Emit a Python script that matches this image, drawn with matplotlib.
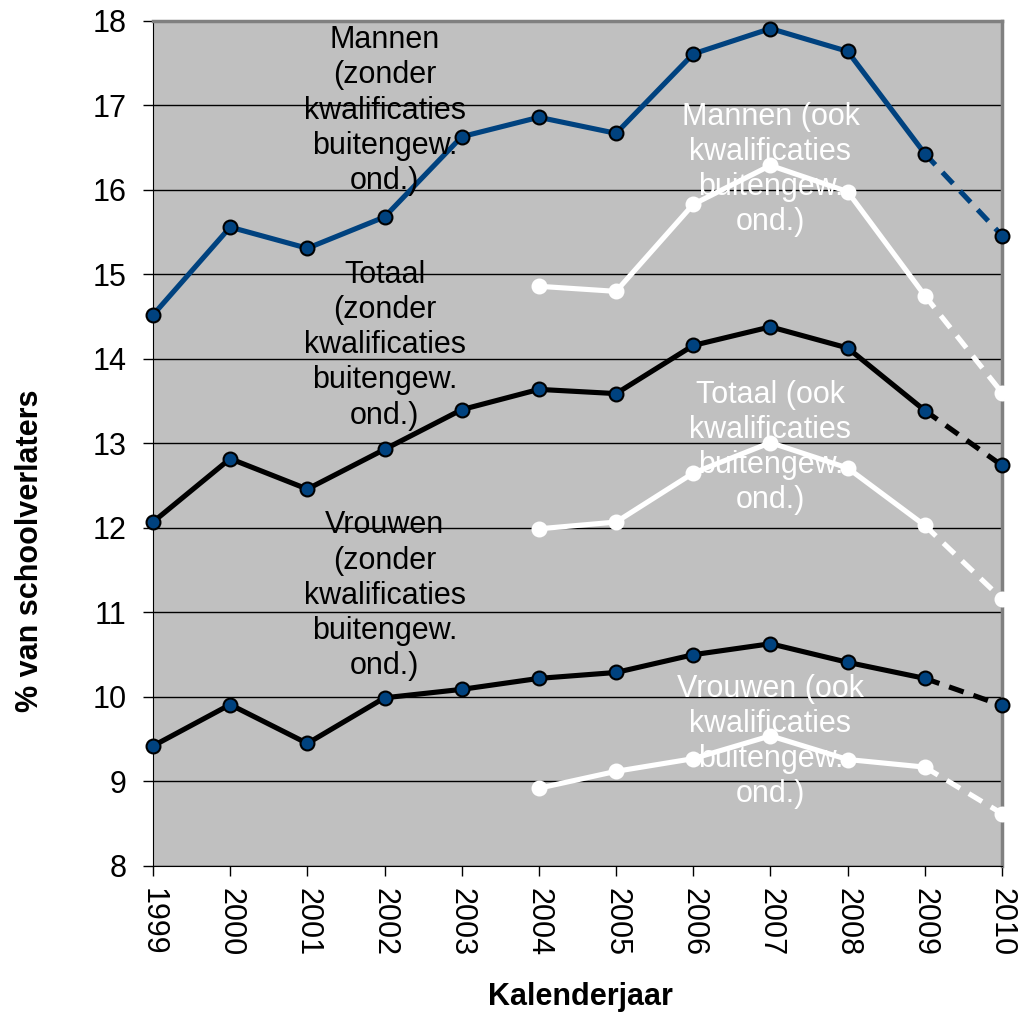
import matplotlib.pyplot as plt
import numpy as np

plt.rcParams['font.family'] = ['Liberation Sans', 'DejaVu Sans']

years = list(range(1999, 2011))
years_ook = list(range(2004, 2011))

mannen = [14.52, 15.56, 15.31, 15.68, 16.63, 16.86, 16.67, 17.61, 17.91, 17.64, 16.43, 15.46]
totaal = [12.07, 12.82, 12.46, 12.93, 13.40, 13.64, 13.59, 14.16, 14.38, 14.13, 13.39, 12.74]
vrouwen = [9.42, 9.91, 9.45, 9.99, 10.09, 10.22, 10.29, 10.50, 10.63, 10.41, 10.22, 9.90]

mannen_ook = [14.86, 14.80, 15.83, 16.29, 15.98, 14.75, 13.60]
totaal_ook = [11.99, 12.07, 12.65, 13.01, 12.71, 12.03, 11.16]
vrouwen_ook = [8.92, 9.12, 9.27, 9.54, 9.26, 9.17, 8.62]

BLUE = "#00427F"

fig = plt.figure(figsize=(10.28, 10.17), dpi=100)
ax = fig.add_axes([0.1488, 0.1485, 0.8259, 0.8309])
ax.set_facecolor("#C0C0C0")


def draw(x, y, line_col, mk_face, mk_edge):
    # solid up to 2009, dashed for the last segment
    ax.plot(x[:-1], y[:-1], color=line_col, lw=3.7, zorder=3)
    ax.plot(x[-2:], y[-2:], color=line_col, lw=3.7, ls=(0, (3, 2)), zorder=3)
    ax.plot(x, y, ls='none', marker='o', ms=10, mfc=mk_face, mec=mk_edge,
            mew=1.5, zorder=4, clip_on=False)


draw(years, mannen, BLUE, BLUE, "black")
draw(years, totaal, "black", BLUE, "black")
draw(years, vrouwen, "black", BLUE, "black")
draw(years_ook, mannen_ook, "white", "white", "white")
draw(years_ook, totaal_ook, "white", "white", "white")
draw(years_ook, vrouwen_ook, "white", "white", "white")

ax.set_xlim(1999, 2010)
ax.set_ylim(8, 18)
ax.set_yticks(range(8, 19))
ax.set_xticks(years)
ax.set_xticklabels([str(y) for y in years], rotation=270)
ax.tick_params(axis='both', labelsize=22, length=7, width=1, direction='out')
ax.tick_params(axis='y', pad=12)
ax.tick_params(axis='x', pad=9)
ax.yaxis.grid(True, color='black', lw=1)
ax.set_axisbelow(True)

ax.spines['top'].set_color('#808080')
ax.spines['top'].set_linewidth(2.5)
ax.spines['right'].set_color('#808080')
ax.spines['right'].set_linewidth(2.5)

fig.text(30 / 1028, 1 - 551 / 1017, "% van schoolverlaters", rotation=90,
         fontsize=22, fontweight='bold', ha='center', va='center')
fig.text(580 / 1028, 1 - 997 / 1017, "Kalenderjaar",
         fontsize=22, fontweight='bold', ha='center', va='center')

txt = dict(ha='center', va='center', fontsize=22, linespacing=1.22, zorder=5)
ax.text(2002, 16.94, "Mannen\n(zonder\nkwalificaties\nbuitengew.\nond.)", color='black', **txt)
ax.text(2002, 14.16, "Totaal\n(zonder\nkwalificaties\nbuitengew.\nond.)", color='black', **txt)
ax.text(2002, 11.2, "Vrouwen\n(zonder\nkwalificaties\nbuitengew.\nond.)", color='black', **txt)
ax.text(2007, 16.24, "Mannen (ook\nkwalificaties\nbuitengew.\nond.)", color='white', **txt)
ax.text(2007, 12.95, "Totaal (ook\nkwalificaties\nbuitengew.\nond.)", color='white', **txt)
ax.text(2007, 9.47, "Vrouwen (ook\nkwalificaties\nbuitengew.\nond.)", color='white', **txt)

fig.savefig("out.png", dpi=100)
